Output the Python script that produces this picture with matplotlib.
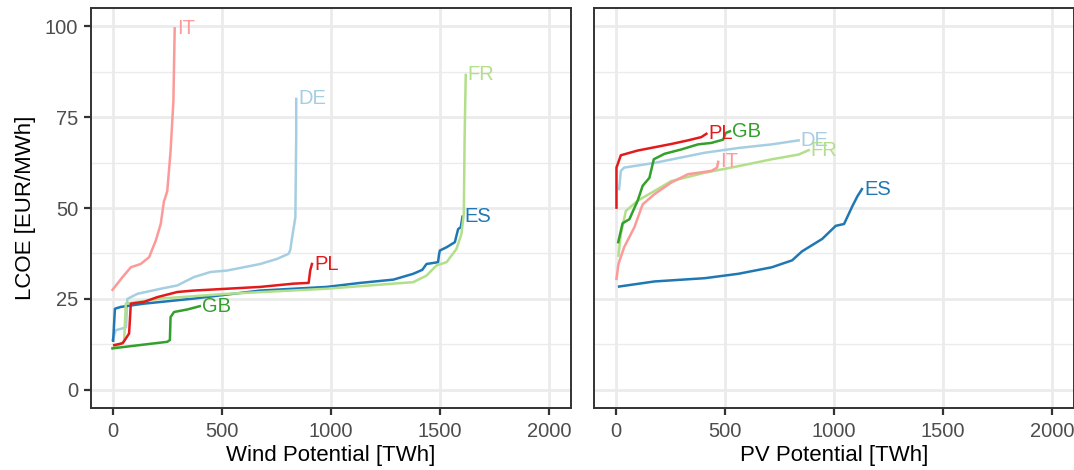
import matplotlib.pyplot as plt
from matplotlib.ticker import MultipleLocator

plt.rcParams['font.family'] = ['Liberation Sans', 'DejaVu Sans']

# ---------------- colours (Paired)
colors = {'DE': '#A6CEE3', 'ES': '#1F78B4', 'FR': '#B2DF8A',
          'GB': '#33A02C', 'IT': '#FB9A99', 'PL': '#E31A1C'}

# ---------------- wind potential [TWh] / LCOE [EUR/MWh]
wind_IT_x = [0, 46, 84, 129, 168, 198, 221, 236, 240, 251, 266, 279, 285]
wind_IT_y = [27.5, 31, 33.7, 34.6, 36.5, 41, 45.6, 52, 52.5, 54.7, 65.6, 79.3, 99.4]

wind_DE_x = [0, 15, 46, 62, 68, 114, 221, 297, 373, 449, 525, 601, 677, 754, 807, 815, 822, 838, 842, 842]
wind_DE_y = [13.7, 16.4, 16.9, 17.2, 25, 26.4, 27.8, 28.7, 31, 32.4, 32.8, 33.7, 34.6, 36, 37.4, 38.5, 41.5, 47.4, 70.2, 80]

wind_PL_x = [8, 46, 61, 76, 84, 145, 206, 297, 373, 525, 677, 830, 899, 906, 914]
wind_PL_y = [12.3, 12.8, 14.1, 15.5, 23.7, 24.2, 25.5, 26.9, 27.3, 27.8, 28.3, 29.2, 29.4, 32.8, 34.6]

wind_GB_x = [0, 68, 251, 263, 266, 282, 343, 400]
wind_GB_y = [11.4, 11.9, 13.2, 13.7, 20, 21.4, 22.1, 23]

wind_ES_x = [3, 11, 38, 145, 373, 677, 982, 1135, 1287, 1378, 1420, 1439, 1492, 1496, 1500, 1531, 1569, 1584, 1596, 1604]
wind_ES_y = [13.5, 22.3, 22.8, 23.7, 25.1, 27.3, 28.3, 29.4, 30.3, 31.9, 33, 34.6, 35.1, 37, 38.3, 39.2, 40.6, 44.2, 44.7, 47.6]

wind_FR_x = [0, 53, 61, 221, 525, 982, 1287, 1378, 1439, 1485, 1531, 1576, 1599, 1610, 1614, 1619]
wind_FR_y = [11.4, 13.2, 23.7, 25.1, 26.4, 27.8, 29.2, 29.6, 31.4, 34.2, 35.1, 38.7, 42.8, 48.3, 70.2, 86.6]

# ---------------- PV potential [TWh] / LCOE [EUR/MWh]
pv_PL_x = [3, 3, 23, 100, 177, 254, 331, 392, 415]
pv_PL_y = [50.1, 61.1, 64.5, 65.8, 66.7, 67.6, 68.6, 69.5, 70.4]

pv_GB_x = [11, 31, 62, 100, 123, 154, 174, 223, 300, 377, 438, 492, 503, 523]
pv_GB_y = [40.6, 45.8, 46.9, 52, 56.1, 58.3, 63.4, 64.9, 66.1, 67.5, 67.9, 68.8, 70.6, 71.1]

pv_DE_x = [15, 23, 38, 177, 408, 561, 715, 838]
pv_DE_y = [55.2, 60.2, 61.1, 62.4, 65.2, 66.5, 67.5, 68.6]

pv_FR_x = [12, 23, 46, 100, 192, 254, 408, 561, 715, 838, 884]
pv_FR_y = [36.9, 42.8, 49.2, 52, 55.2, 57.4, 59.7, 61.5, 63.4, 64.7, 65.9]

pv_IT_x = [3, 12, 38, 85, 123, 177, 254, 331, 438, 464, 469]
pv_IT_y = [30.5, 34.6, 39.2, 44.7, 51, 53.8, 57, 59.3, 60.2, 61.1, 62.7]

pv_ES_x = [15, 177, 408, 561, 715, 808, 854, 946, 1008, 1046, 1085, 1108, 1123, 1128]
pv_ES_y = [28.4, 29.8, 30.7, 31.9, 33.7, 35.6, 38.1, 41.5, 45.1, 45.6, 50.6, 53.3, 54.7, 55.2]

wind = {'IT': (wind_IT_x, wind_IT_y), 'DE': (wind_DE_x, wind_DE_y),
        'PL': (wind_PL_x, wind_PL_y), 'GB': (wind_GB_x, wind_GB_y),
        'ES': (wind_ES_x, wind_ES_y), 'FR': (wind_FR_x, wind_FR_y)}
pv = {'IT': (pv_IT_x, pv_IT_y), 'DE': (pv_DE_x, pv_DE_y),
      'PL': (pv_PL_x, pv_PL_y), 'GB': (pv_GB_x, pv_GB_y),
      'ES': (pv_ES_x, pv_ES_y), 'FR': (pv_FR_x, pv_FR_y)}

x_ticks = [0, 500, 1000, 1500, 2000]
y_ticks = [0, 25, 50, 75, 100]

# ----------------------------------------------------
W, H = 1074, 470
fig = plt.figure(figsize=(W / 100, H / 100), dpi=100)
ax1 = fig.add_axes([90.7 / W, 62 / H, 480 / W, 400 / H])
ax2 = fig.add_axes([594 / W, 62 / H, 480 / W, 400 / H])

for ax, data, xlabel in [(ax1, wind, 'Wind Potential [TWh]'), (ax2, pv, 'PV Potential [TWh]')]:
    for key in ['DE', 'ES', 'FR', 'GB', 'IT', 'PL']:
        xs, ys = data[key]
        ax.plot(xs, ys, color=colors[key], lw=1.8, solid_joinstyle='round', zorder=3)
        ax.annotate(key, (xs[-1], ys[-1]), xytext=(1.5, 0), textcoords='offset points',
                    ha='left', va='center', color=colors[key], fontsize=14.5, zorder=4)

    ax.set_xlim(-100, 2100)
    ax.set_ylim(-5, 105)
    ax.set_xticks(x_ticks)
    ax.set_yticks(y_ticks)
    ax.yaxis.set_minor_locator(MultipleLocator(12.5))
    ax.grid(which='major', color='#EBEBEB', lw=2.0, zorder=0)
    ax.grid(which='minor', axis='y', color='#EBEBEB', lw=1.0, zorder=0)
    ax.tick_params(which='minor', length=0)
    ax.tick_params(which='major', length=5, width=1.6, color='#333333',
                   labelsize=14.5, labelcolor='#4D4D4D', pad=4)
    ax.tick_params(axis='x', pad=5)
    ax.set_axisbelow(True)
    for sp in ax.spines.values():
        sp.set_color('#333333')
        sp.set_linewidth(1.4)
    ax.set_xlabel(xlabel, fontsize=16, labelpad=3)

ax1.set_ylabel('LCOE [EUR/MWh]', fontsize=16, labelpad=6)
ax2.tick_params(axis='y', left=False, labelleft=False)

fig.savefig('out.png', dpi=100)
plt.close(fig)
